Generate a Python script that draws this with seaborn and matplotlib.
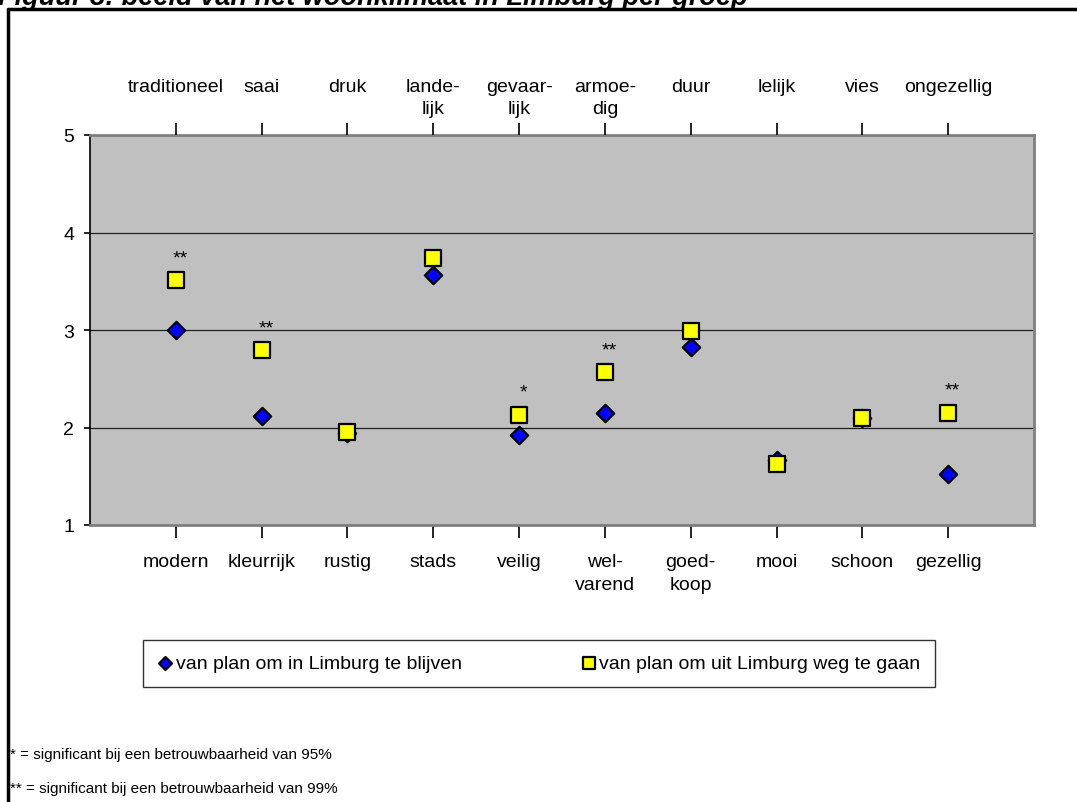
import pandas as pd
import matplotlib.pyplot as plt
import seaborn as sns
import numpy as np
from matplotlib.lines import Line2D

# -----------------------------
# Data
# -----------------------------
bottom_labels = ['modern', 'kleurrijk', 'rustig', 'stads', 'veilig',
                 'wel-\nvarend', 'goed-\nkoop', 'mooi', 'schoon', 'gezellig']
top_labels = ['traditioneel', 'saai', 'druk', 'lande-\nlijk', 'gevaar-\nlijk',
              'armoe-\ndig', 'duur', 'lelijk', 'vies', 'ongezellig']
blijven = [3.00, 2.12, 1.94, 3.56, 1.92, 2.15, 2.83, 1.67, 2.10, 1.52]
weg = [3.51, 2.79, 1.95, 3.74, 2.13, 2.57, 2.99, 1.63, 2.10, 2.15]
significance = ['**', '**', '', '', '*', '**', '', '', '', '**']
y_ticks = [1, 2, 3, 4, 5]

label_blijven = 'van plan om in Limburg te blijven'
label_weg = 'van plan om uit Limburg weg te gaan'

positions = np.arange(1, len(bottom_labels) + 1)
df_blijven = pd.DataFrame({'pos': positions, 'score': blijven})
df_weg = pd.DataFrame({'pos': positions, 'score': weg})

sns.set_style('white')
plt.rcParams['font.family'] = ['Liberation Sans', 'DejaVu Sans']
plt.rcParams['text.color'] = 'black'

W, H = 1077, 803
fig = plt.figure(figsize=(W / 100, H / 100), dpi=100)
ax = fig.add_axes([90 / W, 1 - 526 / H, (1034 - 90) / W, (526 - 136) / H])
ax.set_facecolor('#C0C0C0')

# -----------------------------
# Markers
# -----------------------------
sns.scatterplot(data=df_blijven, x='pos', y='score', marker='D', s=80,
                color='#0000FF', edgecolor='black', linewidth=1.5,
                label=label_blijven, ax=ax, zorder=3)
sns.scatterplot(data=df_weg, x='pos', y='score', marker='s', s=130,
                color='#FFFF00', edgecolor='black', linewidth=1.6,
                label=label_weg, ax=ax, zorder=4)

for p, v, sig in zip(positions, weg, significance):
    if sig:
        ax.text(p + 0.05, v + 0.23, sig, ha='center', va='center', fontsize=14)

ax.set_xlim(0, len(bottom_labels) + 1)
ax.set_ylim(1, 5)
ax.set_yticks(y_ticks)
ax.set_xlabel('')
ax.set_ylabel('')
ax.yaxis.grid(True, color='#202020', linewidth=0.9)
ax.set_axisbelow(True)

ax.set_xticks(positions, labels=bottom_labels, linespacing=1.4)
ax.tick_params(axis='x', direction='out', length=9, width=1.2, pad=11.5,
               labelsize=14, bottom=True, color='black', labelcolor='black')
ax.tick_params(axis='y', direction='out', length=4.5, width=1.2, pad=7,
               labelsize=14, left=True, color='black', labelcolor='black')

for side in ['top', 'right', 'bottom']:
    ax.spines[side].set_color('#808080')
    ax.spines[side].set_linewidth(2)
ax.spines['left'].set_color('black')
ax.spines['left'].set_linewidth(1.2)

# top axis with the opposite terms
ax2 = ax.twiny()
ax2.set_xlim(ax.get_xlim())
ax2.set_xticks(positions, labels=top_labels, va='top', linespacing=1.4)
ax2.tick_params(axis='x', direction='out', length=9, width=1.2, pad=32,
                labelsize=14, color='black', labelcolor='black')
for side in ax2.spines:
    ax2.spines[side].set_visible(False)

# -----------------------------
# Legend
# -----------------------------
handles, labels = ax.get_legend_handles_labels()
ax.get_legend().remove()
leg = fig.legend(handles, labels, loc='center', ncol=2, mode='expand',
                 bbox_to_anchor=(143 / W, 1 - 688 / H, 792 / W, 47 / H),
                 frameon=True, fancybox=False, edgecolor='black',
                 borderpad=0.75, handlelength=0.8, handletextpad=0.15,
                 fontsize=14, markerscale=0.75, scatterpoints=1,
                 borderaxespad=0)
leg.get_frame().set_linewidth(1.0)

# -----------------------------
# Surrounding text and frame
# -----------------------------
fig.text(-2 / W, 1 - 5 / H, 'Figuur 8: beeld van het woonklimaat in Limburg per groep',
         fontsize=19.5, fontweight='bold', fontstyle='italic', va='baseline', ha='left')
fig.text(10 / W, 1 - 755 / H, '* = significant bij een betrouwbaarheid van 95%',
         fontsize=11, va='center', ha='left')
fig.text(10 / W, 1 - 789 / H, '** = significant bij een betrouwbaarheid van 99%',
         fontsize=11, va='center', ha='left')

fig.add_artist(Line2D([8 / W, 8 / W], [0, 1 - 10 / H], transform=fig.transFigure,
                      color='black', linewidth=2.5))
fig.add_artist(Line2D([8 / W, 1], [1 - 10 / H, 1 - 10 / H], transform=fig.transFigure,
                      color='black', linewidth=2.5))

fig.savefig('out.png', dpi=100)
